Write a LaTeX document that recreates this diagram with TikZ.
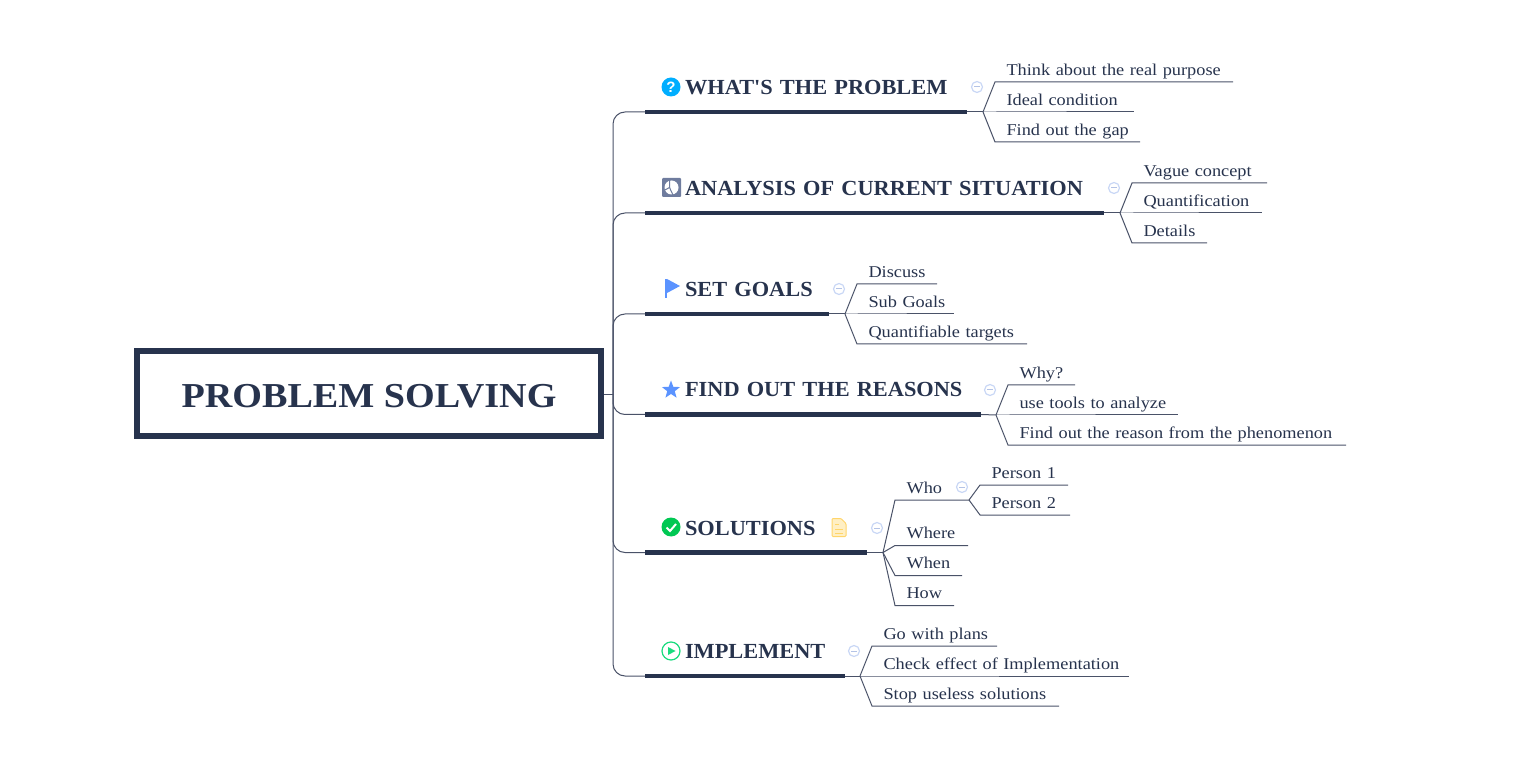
\documentclass[tikz,border=0pt]{standalone}
\usepackage{fontspec}
\setmainfont[FakeStretch=1.11]{Liberation Serif}
\newfontfamily\headfont[FakeStretch=1.04]{Liberation Serif}
\newfontfamily\rootfont[FakeStretch=1.09]{Liberation Serif}
\setsansfont{Liberation Sans}
\usetikzlibrary{shapes.geometric}
\definecolor{navy}{HTML}{27334D}
\definecolor{slate}{HTML}{4A5268}
\definecolor{skyicon}{HTML}{00AEFF}
\definecolor{pieicon}{HTML}{6F7C9E}
\definecolor{blueicon}{HTML}{5B93FF}
\definecolor{checkicon}{HTML}{00C853}
\definecolor{playicon}{HTML}{19DB7E}
\definecolor{notefill}{HTML}{FFEFC4}
\definecolor{noteline}{HTML}{FFD56A}
\definecolor{colring}{HTML}{C9D7F5}
\definecolor{colbar}{HTML}{B4C3E6}
\begin{document}
\begin{tikzpicture}[
    x=1pt, y=-1pt,
    rootbox/.style={draw=navy, line width=6pt, minimum width=464pt, minimum height=85pt, inner sep=0pt,
                text=navy, text height=28.4pt, text depth=0pt, font=\rootfont\bfseries\fontsize{35}{40}\selectfont},
    topic/.style={anchor=south west, text width=#1, align=left, inner xsep=0pt, inner ysep=17.5pt, outer sep=0pt,
                text=navy, text height=14pt, text depth=0pt, font=\headfont\bfseries\fontsize{21.5}{24}\selectfont,
                execute at begin node=\hspace*{40pt}},
    leaf/.style={anchor=south west, text width=#1, align=left, inner xsep=0pt, inner ysep=6.8pt, outer sep=0pt,
                text=navy, text height=11pt, text depth=0pt, font=\fontsize{16.5}{20}\selectfont,
                execute at begin node=\hspace*{11.5pt}},
    bar/.style={draw=navy, line width=4.6pt},
    link/.style={draw=slate, line width=1pt},
    trunk/.style={link, rounded corners=12pt},
    collapse/.style={circle, draw=colring, line width=1.2pt, minimum size=11pt, inner sep=0pt,
                path picture={\draw[colbar, line width=1pt] ([xshift=2.5pt]path picture bounding box.west) -- ([xshift=-2.5pt]path picture bounding box.east);}},
    dot/.style={circle, minimum size=19pt, inner sep=0pt, text=white, font=\sffamily\bfseries\fontsize{15}{15}\selectfont}
]
\useasboundingbox (0,0) rectangle (1529,775);

%--------
% ROOT AND TRUNK
%--------
\node[rootbox] (root) at (369,393.5) {PROBLEM SOLVING};
\coordinate (joint) at (613,395);
\draw[link] (joint -| root.east) -- (joint);

%--------
% TOPICS
%--------
\node[topic=322pt] (what) at (645,112)    {WHAT'S THE PROBLEM};
\node[topic=459pt] (analysis) at (645,213) {ANALYSIS OF CURRENT SITUATION};
\node[topic=184pt] (goals) at (645,314)   {SET GOALS};
\node[topic=336pt] (reasons) at (645,414.5) {FIND OUT THE REASONS};
\node[topic=222pt] (solutions) at (645,552.5) {SOLUTIONS};
\node[topic=200pt] (implement) at (645,676) {IMPLEMENT};

\foreach \topicname in {what,analysis,goals,reasons,solutions,implement} {
    \draw[trunk] (joint) |- (\topicname.south west);
    \draw[bar] (\topicname.south west) -- (\topicname.south east);
}

% Icons in front of the topics
\node[dot, fill=skyicon] (iconwhat) at (671,87) {?};
\node[fill=pieicon, rounded corners=1pt, minimum size=19pt, inner sep=0pt] (iconanalysis) at (671.5,187.5) {};
\fill[white] (iconanalysis.center) circle (7);
\draw[pieicon, line width=1pt] (669.5,180) -- (669.5,187.5) -- (664,190.5);
\draw[pieicon, line width=1pt] (669.5,187.5) -- (673,195);
\fill[blueicon] (665,279) rectangle (667,298);
\fill[blueicon] (667,279) -- (680,286) -- (667,293) -- cycle;
\node[star, star points=5, star point ratio=2.4, fill=blueicon, minimum size=19pt, inner sep=0pt] (iconstar) at (671,390) {};
\node[dot, fill=checkicon] (iconcheck) at (671,527) {};
\draw[white, line width=2pt] (666.5,527.5) -- (670,531) -- (676,524);
\draw[noteline, fill=notefill, line width=1pt, rounded corners=1pt] (832,518.5) -- (841,518.5) -- (846,523.5) -- (846,536.5) -- (832,536.5) -- cycle;
\foreach \notey/\notex in {524.5/839,529/843,533/843} \draw[noteline, line width=1pt] (835,\notey) -- (\notex,\notey);
\node[circle, draw=playicon, line width=1.2pt, minimum size=18pt, inner sep=0pt] (iconplay) at (671,651) {};
\fill[playicon] (668,647) -- (675.5,651) -- (668,655) -- cycle;

% Collapse marks
\node[collapse] (colwhat) at (977,87) {};
\node[collapse] (colanalysis) at (1114,188) {};
\node[collapse] (colgoals) at (839,289) {};
\node[collapse] (colreasons) at (990,390) {};
\node[collapse] (colsolutions) at (877,528) {};
\node[collapse] (colimplement) at (854,651) {};
\node[collapse] (colwho) at (962,487) {};

%--------
% LEAVES
%--------
\coordinate (fwhat) at (983,112);
\node[leaf=238pt] (w1) at (995,82)  {Think about the real purpose};
\node[leaf=139pt] (w2) at (995,112) {Ideal condition};
\node[leaf=145pt] (w3) at (995,142) {Find out the gap};

\coordinate (fanalysis) at (1120,213);
\node[leaf=135pt] (a1) at (1132,183) {Vague concept};
\node[leaf=130pt] (a2) at (1132,213) {Quantification};
\node[leaf=75pt]  (a3) at (1132,243) {Details};

\coordinate (fgoals) at (845,314);
\node[leaf=80pt]  (g1) at (857,284) {Discuss};
\node[leaf=97pt]  (g2) at (857,314) {Sub Goals};
\node[leaf=170pt] (g3) at (857,344) {Quantifiable targets};

\coordinate (freasons) at (996,415);
\node[leaf=67pt]  (r1) at (1008,385) {Why?};
\node[leaf=170pt] (r2) at (1008,415) {use tools to analyze};
\node[leaf=338pt] (r3) at (1008,445) {Find out the reason from the phenomenon};

\coordinate (fsolutions) at (883,552.5);
\node[leaf=75pt] (s1) at (895,500)   {Who};
\node[leaf=73pt] (s2) at (895,545.5) {Where};
\node[leaf=67pt] (s3) at (895,575.5) {When};
\node[leaf=59pt] (s4) at (895,605.5) {How};

\coordinate (fwho) at (969,500);
\node[leaf=88pt] (p1) at (980,485) {Person 1};
\node[leaf=90pt] (p2) at (980,515) {Person 2};

\coordinate (fimplement) at (860,676);
\node[leaf=125pt] (m1) at (872,646) {Go with plans};
\node[leaf=257pt] (m2) at (872,676) {Check effect of Implementation};
\node[leaf=187pt] (m3) at (872,706) {Stop useless solutions};

% Stems and twigs
\foreach \topicname in {what,analysis,goals,reasons,solutions,implement}
    \draw[link] (\topicname.south east) -- (f\topicname);
\foreach \from/\to in {what/w1,what/w2,what/w3,analysis/a1,analysis/a2,analysis/a3,
        goals/g1,goals/g2,goals/g3,reasons/r1,reasons/r2,reasons/r3,
        solutions/s1,solutions/s2,solutions/s3,solutions/s4,who/p1,who/p2,
        implement/m1,implement/m2,implement/m3}
    \draw[link] (f\from) -- (\to.south west) -- (\to.south east);

\end{tikzpicture}
\end{document}
